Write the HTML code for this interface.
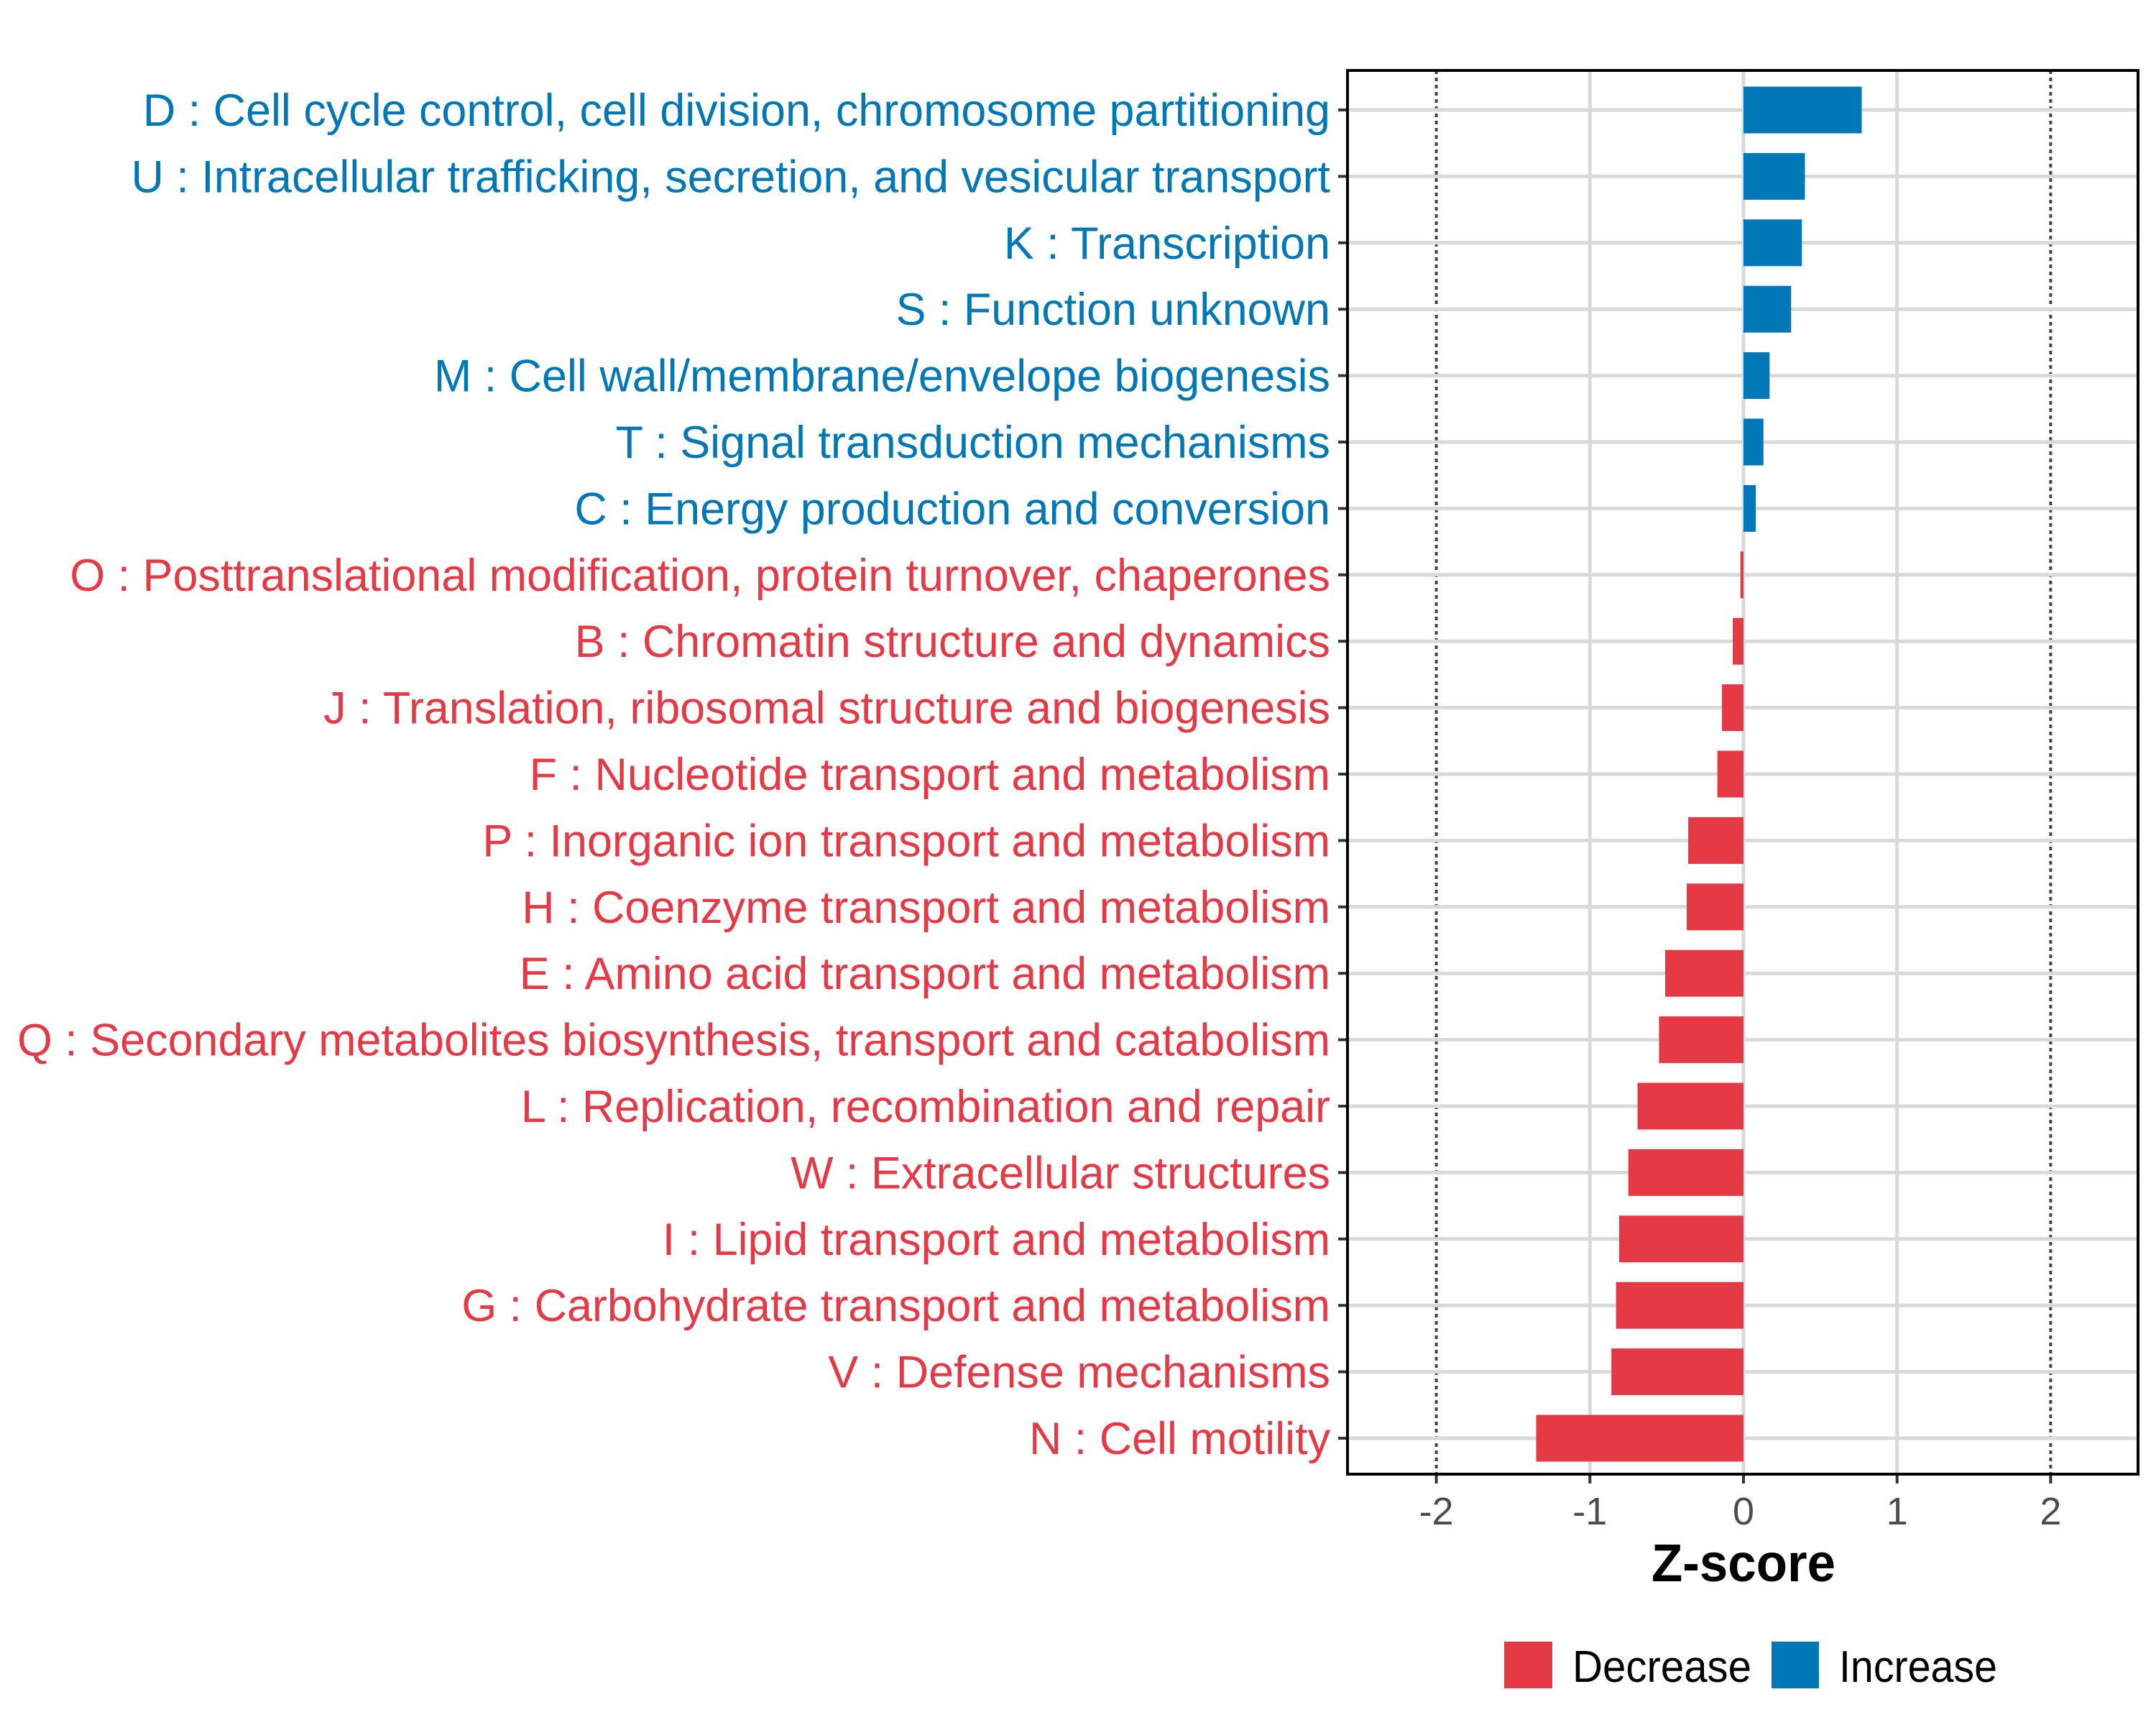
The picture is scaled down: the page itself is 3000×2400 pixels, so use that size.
<!DOCTYPE html>
<html><head><meta charset="utf-8"><style>
html,body{margin:0;padding:0;background:#fff;width:3000px;height:2400px;overflow:hidden}
svg{display:block}
text{font-family:"Liberation Sans",sans-serif}
</style></head><body>
<svg id="chart" width="3000" height="2400" viewBox="0 0 3000 2400" xmlns="http://www.w3.org/2000/svg">
<rect width="3000" height="2400" fill="#fff"/>
<g id="grid"></g><g id="bars"></g><g id="labels"></g><g id="axis"></g>
<rect x="1875" y="98" width="1100" height="1953" fill="none" stroke="#000" stroke-width="4"/>
<text x="2426" y="2200" text-anchor="middle" font-weight="bold" font-size="74" fill="#000" textLength="256" lengthAdjust="spacingAndGlyphs">Z-score</text>
<g>
<rect x="2093" y="2284" width="67" height="65" fill="#E63946"/>
<text x="2188" y="2340" font-size="62" fill="#000" textLength="249" lengthAdjust="spacingAndGlyphs">Decrease</text>
<rect x="2465" y="2284" width="66" height="65" fill="#0077B6"/>
<text x="2559" y="2340" font-size="62" fill="#000" textLength="220" lengthAdjust="spacingAndGlyphs">Increase</text>
</g>
</svg>
<script>
const categories = ["D : Cell cycle control, cell division, chromosome partitioning","U : Intracellular trafficking, secretion, and vesicular transport","K : Transcription","S : Function unknown","M : Cell wall/membrane/envelope biogenesis","T : Signal transduction mechanisms","C : Energy production and conversion","O : Posttranslational modification, protein turnover, chaperones","B : Chromatin structure and dynamics","J : Translation, ribosomal structure and biogenesis","F : Nucleotide transport and metabolism","P : Inorganic ion transport and metabolism","H : Coenzyme transport and metabolism","E : Amino acid transport and metabolism","Q : Secondary metabolites biosynthesis, transport and catabolism","L : Replication, recombination and repair","W : Extracellular structures","I : Lipid transport and metabolism","G : Carbohydrate transport and metabolism","V : Defense mechanisms","N : Cell motility"];
const zscores = [0.77,0.40,0.38,0.31,0.17,0.13,0.08,-0.02,-0.07,-0.14,-0.17,-0.36,-0.37,-0.51,-0.55,-0.69,-0.75,-0.81,-0.83,-0.86,-1.35];
const xTicks = [-2,-1,0,1,2];
const xTickLabels = ["-2","-1","0","1","2"];
const NS="http://www.w3.org/2000/svg";
const x0=2426, unit=213.7;
function xs(v){return x0+v*unit;}
function ys(i){return 153+i*92.4;}
function mk(tag,attrs,parent){const e=document.createElementNS(NS,tag);for(const k in attrs)e.setAttribute(k,attrs[k]);parent.appendChild(e);return e;}
const grid=document.getElementById('grid'),bars=document.getElementById('bars'),labels=document.getElementById('labels'),axis=document.getElementById('axis');
xTicks.forEach((t,i)=>{
  const dotted=Math.abs(t)===2;
  const g=mk('line',{x1:xs(t),x2:xs(t),y1:98,y2:2051,stroke:dotted?'#444':'#d9d9d9','stroke-width':dotted?4:5,'stroke-dasharray':dotted?'5,5':'none'},grid);
  
  
  const tk=mk('line',{x1:xs(t),x2:xs(t),y1:2051,y2:2064,stroke:'#333','stroke-width':4},axis);
  
  
  const tl=mk('text',{x:xs(t),y:2121,'text-anchor':'middle','font-size':54,fill:'#4d4d4d'},axis);
  tl.textContent=xTickLabels[i];
  
  
});
categories.forEach((c,i)=>{
  const y=ys(i);
  const gl=mk('line',{x1:1875,x2:2975,y1:y,y2:y,stroke:'#d9d9d9','stroke-width':5},grid);
  
  
  const v=zscores[i];
  const col=v>=0?'#0077B6':'#E63946';
  const b=mk('rect',{x:Math.min(xs(0),xs(v)),y:y-32.5,width:Math.abs(xs(v)-xs(0)),height:65,fill:col},bars);
  
  
  const tk=mk('line',{x1:1862,x2:1875,y1:y,y2:y,stroke:'#333','stroke-width':4},axis);
  
  
  const t=mk('text',{x:1851,y:y+22,'text-anchor':'end','font-size':63,fill:col},labels);
  t.textContent=c;
  
  
});
const ts=[...labels.querySelectorAll('text')];
let maxW=0;ts.forEach(t=>{maxW=Math.max(maxW,t.getComputedTextLength());});
if(maxW>0){const f=1827/maxW;ts.forEach(t=>{const w=t.getComputedTextLength();t.setAttribute('textLength',w*f);t.setAttribute('lengthAdjust','spacingAndGlyphs');});}
</script>
</body></html>
